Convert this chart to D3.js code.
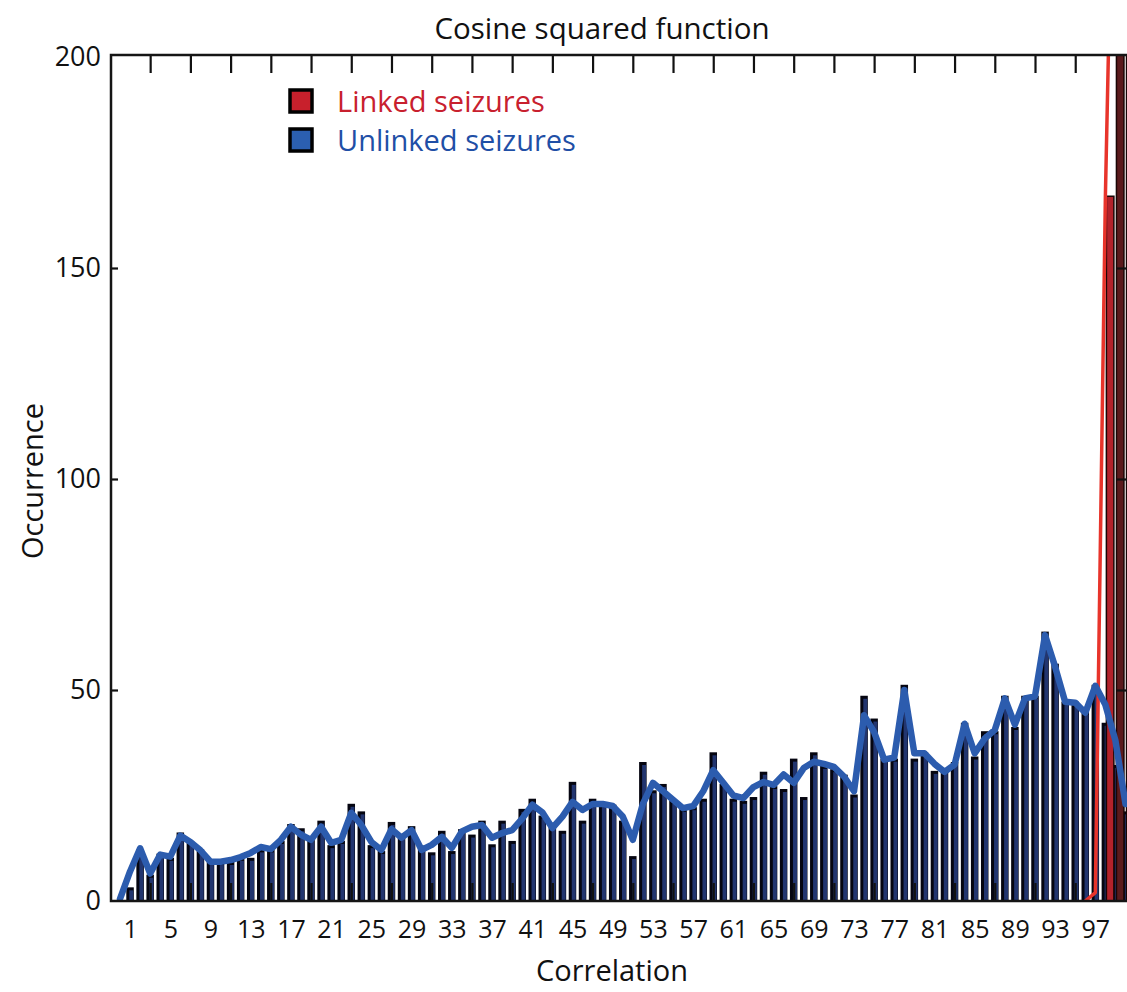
<!DOCTYPE html>
<html>
<head>
<meta charset="utf-8">
<script src="https://cdn.jsdelivr.net/npm/d3@7"></script>
<style>
  body { margin: 0; background: #fff; }
  svg text { font-family: 'Open Sans', 'Noto Sans', sans-serif; fill: #111; }
</style>
</head>
<body>
<svg id="chart"></svg>
<script>
// data
const bins = d3.range(0, 101)
const unlinked = [0, 3, 12, 6, 11, 10, 16, 14, 12, 9, 9,
    9, 10, 10, 12, 12, 14, 18, 17, 14.5, 18.8,
    13, 14, 22.8, 21, 13, 11.6, 18.5, 15.5, 17.5, 12.9,
    11.3, 16.4, 11.6, 16.8, 15.5, 18.8, 13.2, 18.8, 14, 21.6,
    24, 20, 17.6, 16.4, 28, 18.8, 24, 23, 22.6, 18.8,
    10.4, 32.7, 26, 27.5, 23.5, 21.6, 22, 24, 35, 27.5,
    24, 23.5, 24.4, 30.4, 27, 26.3, 33.5, 24.4, 35, 31.8,
    31, 29.7, 25, 48.4, 43, 33.5, 33.5, 51, 33.5, 35,
    30.6, 30.6, 32.7, 42, 34, 40, 40, 48.4, 41, 48.4,
    48.4, 63.6, 56, 47, 47, 44.6, 51, 42, 32, 21]
const unlinkedCurve = [0.5, 7, 12.5, 6.5, 11, 10.5, 15.5, 14, 12, 9.3, 9.3,
    9.7, 10.4, 11.4, 12.8, 12.3, 14.5, 17.6, 15.7, 14.5, 17.6,
    13.8, 14.5, 20.9, 18, 14, 12.1, 17, 15, 16.8, 12.1,
    13.3, 15.2, 12.6, 16.5, 17.6, 18, 15, 16.1, 16.8, 19.5,
    22.8, 21, 17.3, 20, 23.5, 21.6, 23, 23, 22.5, 20,
    14.5, 23, 28, 26, 24, 22, 22.5, 26, 31, 28,
    25, 24.4, 27, 28.2, 27.5, 30, 28, 31.5, 33, 32.5,
    31.8, 29.5, 26, 44, 40, 33.5, 34, 50, 35, 35,
    32.5, 30.6, 32.3, 42, 35, 38.5, 40.5, 48, 41.8, 48,
    48.5, 63, 55.5, 47.2, 47, 44.6, 51, 46.5, 38, 23]
const linkedBins = [96, 97, 98, 99, 100]
const linked = [0, 2, 167, 280, 420]

const xLabels = [1, 5, 9, 13, 17, 21, 25, 29, 33, 37, 41, 45, 49, 53, 57, 61, 65, 69, 73, 77, 81, 85, 89, 93, 97]
const frameTicks = [3, 7, 11, 15, 19, 23, 27, 31, 35, 39, 43, 47, 51, 55, 59, 63, 67, 71, 75, 79, 83, 87, 91, 95]
const yLabels = [0, 50, 100, 150, 200]
const yInner = [50, 100, 150]

const width = 1127
const height = 992
const padL = 111, padR = 1131, padT = 55, padB = 901

const svg = d3.select('#chart').attr('width', width).attr('height', height)

const x = d3.scaleLinear().domain([0, 100]).range([120, 1125.5])
const y = d3.scaleLinear().domain([0, 200]).range([padB, 57])

svg.append('defs').append('clipPath').attr('id', 'plot')
    .append('rect').attr('x', padL).attr('y', padT).attr('width', padR - padL).attr('height', padB - padT)

const plot = svg.append('g').attr('clip-path', 'url(#plot)')

// unlinked bars: black edge + navy body
const barW = 7.5
const shown = bins.filter(d => unlinked[d] > 0)
plot.selectAll('.ub')
    .data(shown)
    .enter().append('rect')
    .attr('x', d => x(d) - barW / 2)
    .attr('y', d => y(unlinked[d]) - 1)
    .attr('width', barW)
    .attr('height', d => padB - y(unlinked[d]) + 1)
    .attr('fill', '#050510')
plot.selectAll('.ub2')
    .data(shown)
    .enter().append('rect')
    .attr('x', d => x(d) - barW / 2 + 3)
    .attr('y', d => y(unlinked[d]) + 2)
    .attr('width', barW - 3.5)
    .attr('height', d => Math.max(0, padB - y(unlinked[d]) - 2))
    .attr('fill', '#22356f')

// linked bars
const linkedShown = linkedBins.map((b, i) => ({b, v: linked[i]})).filter(d => d.v > 5)
plot.selectAll('.lb')
    .data(linkedShown)
    .enter().append('rect')
    .attr('x', d => x(d.b) + 1)
    .attr('y', d => y(d.v))
    .attr('width', barW)
    .attr('height', d => padB - y(d.v))
    .attr('fill', (d, i) => i === 0 ? '#b3222b' : '#5b1a1c')
    .attr('stroke', '#1a0505')
    .attr('stroke-width', 1.5)

// frame ticks (top, bottom, left, right)
const tickStyle = g => {
    g.select('.domain').remove()
    g.selectAll('line').attr('stroke', '#111').attr('stroke-width', 2.2)
}
svg.append('g').attr('transform', `translate(0,${padT})`)
    .call(d3.axisBottom(x).tickValues(frameTicks).tickSize(18).tickFormat(''))
    .call(tickStyle)
svg.append('g').attr('transform', `translate(0,${padB})`)
    .call(d3.axisTop(x).tickValues(frameTicks).tickSize(18).tickFormat(''))
    .call(tickStyle)
svg.append('g').attr('transform', `translate(${padL},0)`)
    .call(d3.axisRight(y).tickValues(yInner).tickSize(7).tickFormat(''))
    .call(tickStyle)
svg.append('g').attr('transform', `translate(${padR},0)`)
    .call(d3.axisLeft(y).tickValues(yInner).tickSize(14).tickFormat(''))
    .call(tickStyle)

// lines
const lineGen = d3.line().x(d => x(d[0])).y(d => y(d[1]))
plot.append('path')
    .datum(linkedBins.map((b, i) => [b, linked[i]]))
    .attr('d', lineGen)
    .attr('fill', 'none')
    .attr('stroke', '#e8342b')
    .attr('stroke-width', 3.5)
    .attr('stroke-linejoin', 'round')
plot.append('path')
    .datum(bins.map(b => [b, unlinkedCurve[b]]))
    .attr('d', lineGen)
    .attr('fill', 'none')
    .attr('stroke', '#2c5cae')
    .attr('stroke-width', 6.5)
    .attr('stroke-linejoin', 'round')
    .attr('stroke-linecap', 'round')

// frame
svg.append('path')
    .attr('d', `M${padR},${padT}H${padL}V${padB}H${padR}`)
    .attr('fill', 'none')
    .attr('stroke', '#151515')
    .attr('stroke-width', 2.5)

// tick labels
const labelAxis = size => g => {
    g.select('.domain').remove()
    g.selectAll('text').style('font-size', size).attr('fill', '#111')
}
svg.append('g').attr('transform', `translate(${padL - 10},0)`)
    .call(d3.axisLeft(y).tickValues(yLabels).tickSize(0).tickPadding(0))
    .call(labelAxis('27px'))
svg.append('g').attr('transform', `translate(0,${padB})`)
    .call(d3.axisBottom(x).tickValues(xLabels).tickSize(0).tickPadding(19))
    .call(labelAxis('25px'))

// titles
svg.append('text').attr('x', 602).attr('y', 39)
    .attr('text-anchor', 'middle').style('font-size', '29.5px')
    .text('Cosine squared function')
svg.append('text').attr('x', 612).attr('y', 981)
    .attr('text-anchor', 'middle').style('font-size', '29px')
    .text('Correlation')
svg.append('text').attr('transform', 'translate(43,481) rotate(-90)')
    .attr('text-anchor', 'middle').style('font-size', '29px')
    .text('Occurrence')

// legend
const legendNames = ['Linked seizures', 'Unlinked seizures']
const legendColors = ['#c8202c', '#2b5fb0']
const legendText = ['#c8202e', '#1f4fa6']
const legend = svg.append('g')
legendNames.forEach((name, i) => {
    const yy = 90 + i * 39
    legend.append('rect').attr('x', 290).attr('y', yy).attr('width', 22).attr('height', 22)
        .attr('fill', legendColors[i]).attr('stroke', '#000').attr('stroke-width', 3.5)
    legend.append('text').attr('x', 337).attr('y', yy + 22)
        .style('font-size', '29px').style('fill', legendText[i])
        .text(name)
})
</script>
</body>
</html>
